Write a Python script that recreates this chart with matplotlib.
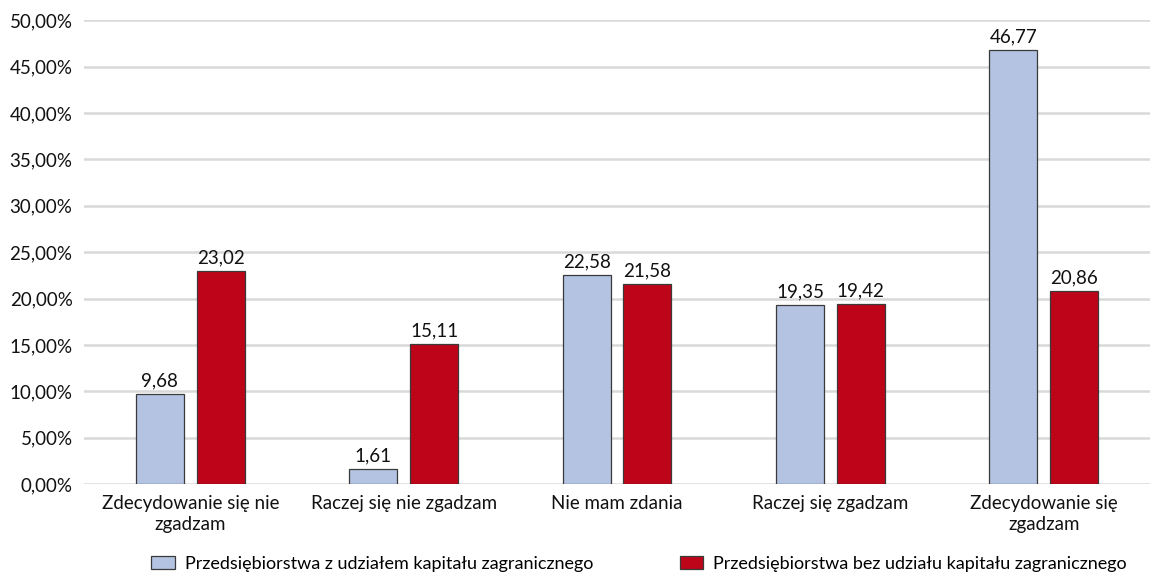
import numpy as np
import matplotlib
matplotlib.use("Agg")
import matplotlib.pyplot as plt

plt.rcParams['font.family'] = ['Lato', 'DejaVu Sans']

categories = ["Zdecydowanie się nie\nzgadzam", "Raczej się nie zgadzam", "Nie mam zdania",
              "Raczej się zgadzam", "Zdecydowanie się\nzgadzam"]
z_udzialem = [9.68, 1.61, 22.58, 19.35, 46.77]
bez_udzialu = [23.02, 15.11, 21.58, 19.42, 20.86]
series_names = ["Przedsiębiorstwa z udziałem kapitału zagranicznego",
                "Przedsiębiorstwa bez udziału kapitału zagranicznego"]
yticks = np.arange(0, 50.01, 5)

fig = plt.figure(figsize=(11.62, 5.81), dpi=100)
ax = fig.add_axes([0.072, 0.167, 0.918, 0.798])

x = np.arange(len(categories))
w = 0.225
gap = 0.06
b1 = ax.bar(x - (w + gap) / 2, z_udzialem, w, color="#B4C3E1", edgecolor="#3a3a3a", linewidth=0.9,
            label=series_names[0], zorder=3)
b2 = ax.bar(x + (w + gap) / 2, bez_udzialu, w, color="#BE0418", edgecolor="#3a3a3a", linewidth=0.9,
            label=series_names[1], zorder=3)

for bars, vals in ((b1, z_udzialem), (b2, bez_udzialu)):
    for b, v in zip(bars, vals):
        ax.text(b.get_x() + b.get_width() / 2, v + 0.5, f"{v:.2f}".replace(".", ","),
                ha="center", va="bottom", fontsize=13.5, color="#111111")

ax.set_xlim(-0.5, len(categories) - 0.5)
ax.set_ylim(0, 50)
ax.set_yticks(yticks)
ax.set_yticklabels([f"{t:.2f}%".replace(".", ",") for t in yticks])
ax.set_xticks(x)
ax.set_xticklabels(categories, linespacing=1.25)
ax.tick_params(axis="both", length=0, labelsize=13.5, colors="#111111")
ax.tick_params(axis="x", pad=8)
ax.tick_params(axis="y", pad=8)
ax.grid(axis="y", color="#d9d9d9", linewidth=1.8, zorder=0)
for s in ax.spines.values():
    s.set_visible(False)

fig.legend(handles=[b1, b2], loc="lower center", bbox_to_anchor=(0.55, -0.012), ncol=2,
           frameon=False, fontsize=13, columnspacing=4.8, handlelength=1.3,
           handleheight=0.8, handletextpad=0.55)

fig.savefig("out.png", dpi=100)
